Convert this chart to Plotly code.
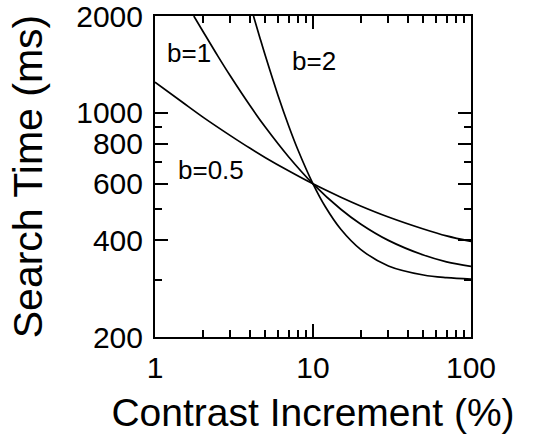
import math
import plotly.graph_objects as go

# Contrast increments (%) at which each curve is sampled
contrast_b05 = [1, 1.5, 2, 3, 4, 5, 7, 10, 15, 20, 30, 50, 70, 100]
contrast_b1 = [1.76, 2, 2.5, 3, 4, 5, 7, 10, 15, 20, 30, 50, 70, 100]
contrast_b2 = [4.2, 4.6, 5, 6, 7, 8, 10, 12, 15, 20, 30, 50, 70, 100]

# Search time (ms) for each exponent b
time_b05 = [1245, 1075, 970, 848, 774, 724, 659, 600, 545, 512, 473, 434, 413, 397]
time_b1 = [2000, 1800, 1500, 1300, 1050, 900, 729, 600, 500, 450, 400, 360, 343, 332]
time_b2 = [2000, 1718, 1500, 1133, 912, 769, 600, 508, 433, 375, 333, 312, 306, 303]

curve_labels = ["b=0.5", "b=1", "b=2"]
label_pos = [(2.25, 665), (1.63, 1530), (10.2, 1445)]

x_ticks = [1, 10, 100]
x_minor = [2, 3, 4, 5, 6, 7, 8, 9, 20, 30, 40, 50, 60, 70, 80, 90]
y_ticks = [200, 400, 600, 800, 1000, 2000]
y_minor = [300, 400, 500, 600, 700, 800, 900]

font = "Liberation Sans, Arial, Helvetica, sans-serif"

fig = go.Figure()
for xs, ys in [(contrast_b05, time_b05), (contrast_b1, time_b1), (contrast_b2, time_b2)]:
    fig.add_trace(go.Scatter(x=xs, y=ys, mode="lines",
                             line=dict(color="black", width=1.7, shape="spline", smoothing=1.0),
                             showlegend=False, hoverinfo="skip"))

# annotations on log axes take positions in log10 units
for text, (lx, ly) in zip(curve_labels, label_pos):
    fig.add_annotation(x=math.log10(lx), y=math.log10(ly), xref="x", yref="y", text=text,
                       showarrow=False, font=dict(family=font, size=26, color="black"))

axis_common = dict(
    type="log", showgrid=False, zeroline=False, showline=True, linecolor="black",
    linewidth=2, mirror="ticks", ticks="inside", tickcolor="black", tickwidth=2,
    ticklen=13, tickfont=dict(family=font, size=30, color="black"),
    ticklabeloverflow="allow",
)

fig.update_xaxes(
    **axis_common, range=[0, 2], tickvals=x_ticks, ticktext=[str(v) for v in x_ticks],
    ticklabelstandoff=3,
    minor=dict(ticks="inside", ticklen=7, tickwidth=2, tickcolor="black", tickvals=x_minor),
    title=dict(text="Contrast Increment (%)", font=dict(family=font, size=39, color="black"),
               standoff=16),
)
fig.update_yaxes(
    **axis_common, range=[math.log10(y_ticks[0]), math.log10(y_ticks[-1])], tickvals=y_ticks,
    ticktext=[str(v) for v in y_ticks], ticklabelstandoff=4,
    minor=dict(ticks="inside", ticklen=7, tickwidth=2, tickcolor="black", tickvals=y_minor),
    title=dict(text="Search Time (ms)", font=dict(family=font, size=41, color="black"),
               standoff=21),
)

fig.update_layout(
    width=534, height=444, autosize=False,
    margin=dict(l=155, r=63, t=16, b=107, autoexpand=False),
    paper_bgcolor="white", plot_bgcolor="white",
)

fig.write_html("out.html")
